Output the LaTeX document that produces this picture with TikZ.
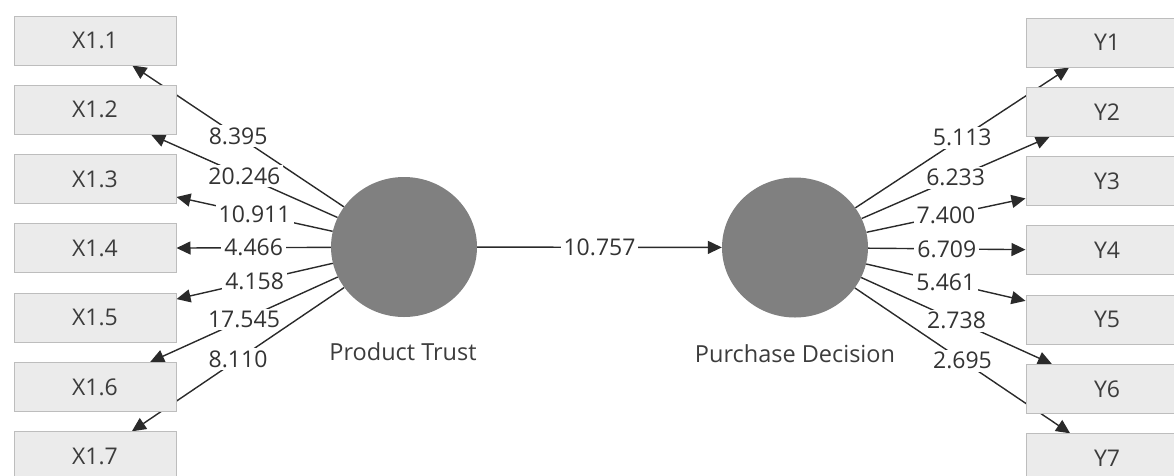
\documentclass[tikz,border=0pt]{standalone}
\usepackage{fontspec}
\setmainfont{Open Sans}
\usetikzlibrary{arrows.meta,shapes.geometric}
\definecolor{boxfill}{HTML}{EBEBEB}
\definecolor{boxline}{HTML}{BDBDBD}
\definecolor{boxtext}{HTML}{3C3C3C}
\definecolor{latentfill}{HTML}{808080}
\definecolor{linecol}{HTML}{2A2A2A}
\definecolor{labeltext}{HTML}{333333}
\pgfdeclarelayer{edges}
\pgfsetlayers{edges,main}
\begin{document}
\begin{tikzpicture}[x=1pt,y=-1pt,
  indicator/.style={draw=boxline, line width=1pt, fill=boxfill,
    minimum width=162pt, minimum height=49pt, inner sep=0pt,
    text=boxtext, font=\fontsize{23}{26}\selectfont},
  latent/.style={ellipse, fill=latentfill, minimum width=146pt,
    minimum height=140pt, inner sep=0pt},
  caption/.style={text=boxtext, font=\fontsize{23.5}{26}\selectfont},
  loading/.style={draw=linecol, line width=1.4pt,
    -{Triangle[length=14pt,width=13pt]}},
  wt/.style={fill=white, inner xsep=3pt, inner ysep=2.5pt, text=labeltext,
    font=\fontsize{23}{26}\selectfont, pos=0.5}]
\useasboundingbox (0,0) rectangle (1174,475);

% latent constructs
\node[latent] (pt) at (404,247) {};
\node[latent] (pd) at (795,247.5) {};
\node[caption] at (403,352) {Product Trust};
\node[caption] at (795,354) {Purchase Decision};

% indicator blocks
\foreach \i in {1,...,7} {
  \node[indicator] (x\i) at (95,{40.5+69.3*(\i-1)}) {X1.\i};
  \node[indicator] (y\i) at (1107,{42.5+69.3*(\i-1)}) {Y\i};
}

\begin{pgfonlayer}{edges}
  % outer loadings of Product Trust
  \draw[loading] (pt) -- node[wt] {8.395}  (x1);
  \draw[loading] (pt) -- node[wt] {20.246} (x2);
  \draw[loading] (pt) -- node[wt] {10.911} (x3);
  \draw[loading] (pt) -- node[wt] {4.466}  (x4);
  \draw[loading] (pt) -- node[wt] {4.158}  (x5);
  \draw[loading] (pt) -- node[wt] {17.545} (x6);
  \draw[loading] (pt) -- node[wt] {8.110}  (x7);
  % structural path
  \draw[loading] (pt) -- node[wt] {10.757} (pd);
  % outer loadings of Purchase Decision
  \draw[loading] (pd) -- node[wt] {5.113} (y1);
  \draw[loading] (pd) -- node[wt] {6.233} (y2);
  \draw[loading] (pd) -- node[wt] {7.400} (y3);
  \draw[loading] (pd) -- node[wt] {6.709} (y4);
  \draw[loading] (pd) -- node[wt] {5.461} (y5);
  \draw[loading] (pd) -- node[wt] {2.738} (y6);
  \draw[loading] (pd) -- node[wt] {2.695} (y7);
\end{pgfonlayer}
\end{tikzpicture}
\end{document}
